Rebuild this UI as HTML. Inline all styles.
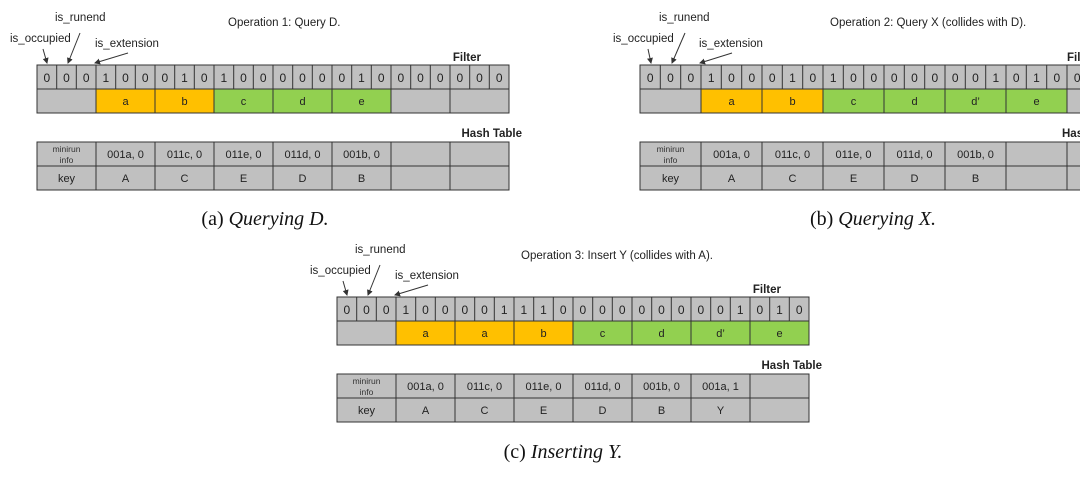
<!DOCTYPE html>
<html><head><meta charset="utf-8"><style>
html,body{margin:0;padding:0;background:#fff;}
svg text{font-family:"Liberation Sans",sans-serif;fill:#222;}
.b{font-size:12px;text-anchor:middle}
.s{font-size:11px;text-anchor:middle}
.m{font-size:8.5px;text-anchor:middle;fill:#333}
.l{font-size:11.5px}
.h{font-size:11.5px;font-weight:bold;text-anchor:end}
.cap{font-family:"Liberation Serif",serif;font-size:20px;text-anchor:middle;fill:#111}
rect{stroke:#333;stroke-width:1}
line{stroke:#333;stroke-width:1}
</style></head><body>
<svg width="1080" height="472" viewBox="0 0 1080 472" xmlns="http://www.w3.org/2000/svg">
<defs><marker id="ar" markerWidth="6" markerHeight="6" refX="5" refY="3" orient="auto"><path d="M0,0 L6,3 L0,6z" fill="#333"/></marker></defs>

<!-- ===== (a) ===== -->
<g transform="translate(37,65)">
<text class="l" x="-27" y="-23">is_occupied</text>
<text class="l" x="18" y="-44">is_runend</text>
<text class="l" x="58" y="-18">is_extension</text>
<text class="l" x="191" y="-39">Operation 1: Query D.</text>
<line x1="6" y1="-16" x2="10" y2="-2" marker-end="url(#ar)"/>
<line x1="43" y1="-32" x2="31" y2="-2" marker-end="url(#ar)"/>
<line x1="91" y1="-12" x2="58" y2="-2" marker-end="url(#ar)"/>
<text class="h" x="444" y="-4">Filter</text>
<rect x="0" y="0" width="472" height="24" fill="#c0c0c0"/>
<g>
<line x1="19.7" y1="0" x2="19.7" y2="24"/><line x1="39.3" y1="0" x2="39.3" y2="24"/>
<line x1="59" y1="0" x2="59" y2="48"/><line x1="78.7" y1="0" x2="78.7" y2="24"/><line x1="98.3" y1="0" x2="98.3" y2="24"/>
<line x1="118" y1="0" x2="118" y2="48"/><line x1="137.7" y1="0" x2="137.7" y2="24"/><line x1="157.3" y1="0" x2="157.3" y2="24"/>
<line x1="177" y1="0" x2="177" y2="48"/><line x1="196.7" y1="0" x2="196.7" y2="24"/><line x1="216.3" y1="0" x2="216.3" y2="24"/>
<line x1="236" y1="0" x2="236" y2="48"/><line x1="255.7" y1="0" x2="255.7" y2="24"/><line x1="275.3" y1="0" x2="275.3" y2="24"/>
<line x1="295" y1="0" x2="295" y2="48"/><line x1="314.7" y1="0" x2="314.7" y2="24"/><line x1="334.3" y1="0" x2="334.3" y2="24"/>
<line x1="354" y1="0" x2="354" y2="48"/><line x1="373.7" y1="0" x2="373.7" y2="24"/><line x1="393.3" y1="0" x2="393.3" y2="24"/>
<line x1="413" y1="0" x2="413" y2="48"/><line x1="432.7" y1="0" x2="432.7" y2="24"/><line x1="452.3" y1="0" x2="452.3" y2="24"/>
</g>
<g class="b">
<text class="b" x="9.8" y="17">0</text><text class="b" x="29.5" y="17">0</text><text class="b" x="49.2" y="17">0</text>
<text class="b" x="68.8" y="17">1</text><text class="b" x="88.5" y="17">0</text><text class="b" x="108.2" y="17">0</text>
<text class="b" x="127.8" y="17">0</text><text class="b" x="147.5" y="17">1</text><text class="b" x="167.2" y="17">0</text>
<text class="b" x="186.8" y="17">1</text><text class="b" x="206.5" y="17">0</text><text class="b" x="226.2" y="17">0</text>
<text class="b" x="245.8" y="17">0</text><text class="b" x="265.5" y="17">0</text><text class="b" x="285.2" y="17">0</text>
<text class="b" x="304.8" y="17">0</text><text class="b" x="324.5" y="17">1</text><text class="b" x="344.2" y="17">0</text>
<text class="b" x="363.8" y="17">0</text><text class="b" x="383.5" y="17">0</text><text class="b" x="403.2" y="17">0</text>
<text class="b" x="422.8" y="17">0</text><text class="b" x="442.5" y="17">0</text><text class="b" x="462.2" y="17">0</text>
</g>
<rect x="0" y="24" width="59" height="24" fill="#c0c0c0"/>
<rect x="59" y="24" width="59" height="24" fill="#ffc000"/><text class="s" x="88.5" y="40">a</text>
<rect x="118" y="24" width="59" height="24" fill="#ffc000"/><text class="s" x="147.5" y="40">b</text>
<rect x="177" y="24" width="59" height="24" fill="#92d050"/><text class="s" x="206.5" y="40">c</text>
<rect x="236" y="24" width="59" height="24" fill="#92d050"/><text class="s" x="265.5" y="40">d</text>
<rect x="295" y="24" width="59" height="24" fill="#92d050"/><text class="s" x="324.5" y="40">e</text>
<rect x="354" y="24" width="59" height="24" fill="#c0c0c0"/>
<rect x="413" y="24" width="59" height="24" fill="#c0c0c0"/>
<text class="h" x="485" y="72">Hash Table</text>
<rect x="0" y="77" width="59" height="24" fill="#c0c0c0"/><text class="m" x="29.5" y="87">minirun</text><text class="m" x="29.5" y="98">info</text>
<rect x="59" y="77" width="59" height="24" fill="#c0c0c0"/><text class="s" x="88.5" y="93">001a, 0</text>
<rect x="118" y="77" width="59" height="24" fill="#c0c0c0"/><text class="s" x="147.5" y="93">011c, 0</text>
<rect x="177" y="77" width="59" height="24" fill="#c0c0c0"/><text class="s" x="206.5" y="93">011e, 0</text>
<rect x="236" y="77" width="59" height="24" fill="#c0c0c0"/><text class="s" x="265.5" y="93">011d, 0</text>
<rect x="295" y="77" width="59" height="24" fill="#c0c0c0"/><text class="s" x="324.5" y="93">001b, 0</text>
<rect x="354" y="77" width="59" height="24" fill="#c0c0c0"/>
<rect x="413" y="77" width="59" height="24" fill="#c0c0c0"/>
<rect x="0" y="101" width="59" height="24" fill="#c0c0c0"/><text class="s" x="29.5" y="117">key</text>
<rect x="59" y="101" width="59" height="24" fill="#c0c0c0"/><text class="s" x="88.5" y="117">A</text>
<rect x="118" y="101" width="59" height="24" fill="#c0c0c0"/><text class="s" x="147.5" y="117">C</text>
<rect x="177" y="101" width="59" height="24" fill="#c0c0c0"/><text class="s" x="206.5" y="117">E</text>
<rect x="236" y="101" width="59" height="24" fill="#c0c0c0"/><text class="s" x="265.5" y="117">D</text>
<rect x="295" y="101" width="59" height="24" fill="#c0c0c0"/><text class="s" x="324.5" y="117">B</text>
<rect x="354" y="101" width="59" height="24" fill="#c0c0c0"/>
<rect x="413" y="101" width="59" height="24" fill="#c0c0c0"/>
</g>
<text class="cap" x="265" y="225">(a) <tspan font-style="italic">Querying D.</tspan></text>

<!-- ===== (b) ===== -->
<g transform="translate(640,65)">
<text class="l" x="-27" y="-23">is_occupied</text>
<text class="l" x="19" y="-44">is_runend</text>
<text class="l" x="59" y="-18">is_extension</text>
<text class="l" x="190" y="-39">Operation 2: Query X (collides with D).</text>
<line x1="8" y1="-16" x2="11" y2="-2" marker-end="url(#ar)"/>
<line x1="45" y1="-32" x2="32" y2="-2" marker-end="url(#ar)"/>
<line x1="92" y1="-12" x2="60" y2="-2" marker-end="url(#ar)"/>
<text class="l" x="427" y="-4" style="font-weight:bold">Filter</text>
<rect x="0" y="0" width="488" height="24" fill="#c0c0c0"/>
<line x1="20.3" y1="0" x2="20.3" y2="24"/><line x1="40.7" y1="0" x2="40.7" y2="24"/>
<line x1="61" y1="0" x2="61" y2="48"/><line x1="81.3" y1="0" x2="81.3" y2="24"/><line x1="101.7" y1="0" x2="101.7" y2="24"/>
<line x1="122" y1="0" x2="122" y2="48"/><line x1="142.3" y1="0" x2="142.3" y2="24"/><line x1="162.7" y1="0" x2="162.7" y2="24"/>
<line x1="183" y1="0" x2="183" y2="48"/><line x1="203.3" y1="0" x2="203.3" y2="24"/><line x1="223.7" y1="0" x2="223.7" y2="24"/>
<line x1="244" y1="0" x2="244" y2="48"/><line x1="264.3" y1="0" x2="264.3" y2="24"/><line x1="284.7" y1="0" x2="284.7" y2="24"/>
<line x1="305" y1="0" x2="305" y2="48"/><line x1="325.3" y1="0" x2="325.3" y2="24"/><line x1="345.7" y1="0" x2="345.7" y2="24"/>
<line x1="366" y1="0" x2="366" y2="48"/><line x1="386.3" y1="0" x2="386.3" y2="24"/><line x1="406.7" y1="0" x2="406.7" y2="24"/>
<line x1="427" y1="0" x2="427" y2="48"/>
<text class="b" x="10.2" y="17">0</text><text class="b" x="30.5" y="17">0</text><text class="b" x="50.8" y="17">0</text>
<text class="b" x="71.2" y="17">1</text><text class="b" x="91.5" y="17">0</text><text class="b" x="111.8" y="17">0</text>
<text class="b" x="132.2" y="17">0</text><text class="b" x="152.5" y="17">1</text><text class="b" x="172.8" y="17">0</text>
<text class="b" x="193.2" y="17">1</text><text class="b" x="213.5" y="17">0</text><text class="b" x="233.8" y="17">0</text>
<text class="b" x="254.2" y="17">0</text><text class="b" x="274.5" y="17">0</text><text class="b" x="294.8" y="17">0</text>
<text class="b" x="315.2" y="17">0</text><text class="b" x="335.5" y="17">0</text><text class="b" x="355.8" y="17">1</text>
<text class="b" x="376.2" y="17">0</text><text class="b" x="396.5" y="17">1</text><text class="b" x="416.8" y="17">0</text>
<text class="b" x="437.2" y="17">0</text>
<rect x="0" y="24" width="61" height="24" fill="#c0c0c0"/>
<rect x="61" y="24" width="61" height="24" fill="#ffc000"/><text class="s" x="91.5" y="40">a</text>
<rect x="122" y="24" width="61" height="24" fill="#ffc000"/><text class="s" x="152.5" y="40">b</text>
<rect x="183" y="24" width="61" height="24" fill="#92d050"/><text class="s" x="213.5" y="40">c</text>
<rect x="244" y="24" width="61" height="24" fill="#92d050"/><text class="s" x="274.5" y="40">d</text>
<rect x="305" y="24" width="61" height="24" fill="#92d050"/><text class="s" x="335.5" y="40">d’</text>
<rect x="366" y="24" width="61" height="24" fill="#92d050"/><text class="s" x="396.5" y="40">e</text>
<rect x="427" y="24" width="61" height="24" fill="#c0c0c0"/>
<text class="l" x="422" y="72" style="font-weight:bold">Hash Table</text>
<rect x="0" y="77" width="61" height="24" fill="#c0c0c0"/><text class="m" x="30.5" y="87">minirun</text><text class="m" x="30.5" y="98">info</text>
<rect x="61" y="77" width="61" height="24" fill="#c0c0c0"/><text class="s" x="91.5" y="93">001a, 0</text>
<rect x="122" y="77" width="61" height="24" fill="#c0c0c0"/><text class="s" x="152.5" y="93">011c, 0</text>
<rect x="183" y="77" width="61" height="24" fill="#c0c0c0"/><text class="s" x="213.5" y="93">011e, 0</text>
<rect x="244" y="77" width="61" height="24" fill="#c0c0c0"/><text class="s" x="274.5" y="93">011d, 0</text>
<rect x="305" y="77" width="61" height="24" fill="#c0c0c0"/><text class="s" x="335.5" y="93">001b, 0</text>
<rect x="366" y="77" width="61" height="24" fill="#c0c0c0"/>
<rect x="427" y="77" width="61" height="24" fill="#c0c0c0"/>
<rect x="0" y="101" width="61" height="24" fill="#c0c0c0"/><text class="s" x="30.5" y="117">key</text>
<rect x="61" y="101" width="61" height="24" fill="#c0c0c0"/><text class="s" x="91.5" y="117">A</text>
<rect x="122" y="101" width="61" height="24" fill="#c0c0c0"/><text class="s" x="152.5" y="117">C</text>
<rect x="183" y="101" width="61" height="24" fill="#c0c0c0"/><text class="s" x="213.5" y="117">E</text>
<rect x="244" y="101" width="61" height="24" fill="#c0c0c0"/><text class="s" x="274.5" y="117">D</text>
<rect x="305" y="101" width="61" height="24" fill="#c0c0c0"/><text class="s" x="335.5" y="117">B</text>
<rect x="366" y="101" width="61" height="24" fill="#c0c0c0"/>
<rect x="427" y="101" width="61" height="24" fill="#c0c0c0"/>
</g>
<text class="cap" x="873" y="225">(b) <tspan font-style="italic">Querying X.</tspan></text>

<!-- ===== (c) ===== -->
<g transform="translate(337,297)">
<text class="l" x="-27" y="-23">is_occupied</text>
<text class="l" x="18" y="-44">is_runend</text>
<text class="l" x="58" y="-18">is_extension</text>
<text class="l" x="184" y="-38">Operation 3: Insert Y (collides with A).</text>
<line x1="6" y1="-16" x2="10" y2="-2" marker-end="url(#ar)"/>
<line x1="43" y1="-32" x2="31" y2="-2" marker-end="url(#ar)"/>
<line x1="91" y1="-12" x2="58" y2="-2" marker-end="url(#ar)"/>
<text class="h" x="444" y="-4">Filter</text>
<rect x="0" y="0" width="472" height="24" fill="#c0c0c0"/>
<line x1="19.7" y1="0" x2="19.7" y2="24"/><line x1="39.3" y1="0" x2="39.3" y2="24"/>
<line x1="59" y1="0" x2="59" y2="48"/><line x1="78.7" y1="0" x2="78.7" y2="24"/><line x1="98.3" y1="0" x2="98.3" y2="24"/>
<line x1="118" y1="0" x2="118" y2="48"/><line x1="137.7" y1="0" x2="137.7" y2="24"/><line x1="157.3" y1="0" x2="157.3" y2="24"/>
<line x1="177" y1="0" x2="177" y2="48"/><line x1="196.7" y1="0" x2="196.7" y2="24"/><line x1="216.3" y1="0" x2="216.3" y2="24"/>
<line x1="236" y1="0" x2="236" y2="48"/><line x1="255.7" y1="0" x2="255.7" y2="24"/><line x1="275.3" y1="0" x2="275.3" y2="24"/>
<line x1="295" y1="0" x2="295" y2="48"/><line x1="314.7" y1="0" x2="314.7" y2="24"/><line x1="334.3" y1="0" x2="334.3" y2="24"/>
<line x1="354" y1="0" x2="354" y2="48"/><line x1="373.7" y1="0" x2="373.7" y2="24"/><line x1="393.3" y1="0" x2="393.3" y2="24"/>
<line x1="413" y1="0" x2="413" y2="48"/><line x1="432.7" y1="0" x2="432.7" y2="24"/><line x1="452.3" y1="0" x2="452.3" y2="24"/>
<text class="b" x="9.8" y="17">0</text><text class="b" x="29.5" y="17">0</text><text class="b" x="49.2" y="17">0</text>
<text class="b" x="68.8" y="17">1</text><text class="b" x="88.5" y="17">0</text><text class="b" x="108.2" y="17">0</text>
<text class="b" x="127.8" y="17">0</text><text class="b" x="147.5" y="17">0</text><text class="b" x="167.2" y="17">1</text>
<text class="b" x="186.8" y="17">1</text><text class="b" x="206.5" y="17">1</text><text class="b" x="226.2" y="17">0</text>
<text class="b" x="245.8" y="17">0</text><text class="b" x="265.5" y="17">0</text><text class="b" x="285.2" y="17">0</text>
<text class="b" x="304.8" y="17">0</text><text class="b" x="324.5" y="17">0</text><text class="b" x="344.2" y="17">0</text>
<text class="b" x="363.8" y="17">0</text><text class="b" x="383.5" y="17">0</text><text class="b" x="403.2" y="17">1</text>
<text class="b" x="422.8" y="17">0</text><text class="b" x="442.5" y="17">1</text><text class="b" x="462.2" y="17">0</text>
<rect x="0" y="24" width="59" height="24" fill="#c0c0c0"/>
<rect x="59" y="24" width="59" height="24" fill="#ffc000"/><text class="s" x="88.5" y="40">a</text>
<rect x="118" y="24" width="59" height="24" fill="#ffc000"/><text class="s" x="147.5" y="40">a</text>
<rect x="177" y="24" width="59" height="24" fill="#ffc000"/><text class="s" x="206.5" y="40">b</text>
<rect x="236" y="24" width="59" height="24" fill="#92d050"/><text class="s" x="265.5" y="40">c</text>
<rect x="295" y="24" width="59" height="24" fill="#92d050"/><text class="s" x="324.5" y="40">d</text>
<rect x="354" y="24" width="59" height="24" fill="#92d050"/><text class="s" x="383.5" y="40">d’</text>
<rect x="413" y="24" width="59" height="24" fill="#92d050"/><text class="s" x="442.5" y="40">e</text>
<text class="h" x="485" y="72">Hash Table</text>
<rect x="0" y="77" width="59" height="24" fill="#c0c0c0"/><text class="m" x="29.5" y="87">minirun</text><text class="m" x="29.5" y="98">info</text>
<rect x="59" y="77" width="59" height="24" fill="#c0c0c0"/><text class="s" x="88.5" y="93">001a, 0</text>
<rect x="118" y="77" width="59" height="24" fill="#c0c0c0"/><text class="s" x="147.5" y="93">011c, 0</text>
<rect x="177" y="77" width="59" height="24" fill="#c0c0c0"/><text class="s" x="206.5" y="93">011e, 0</text>
<rect x="236" y="77" width="59" height="24" fill="#c0c0c0"/><text class="s" x="265.5" y="93">011d, 0</text>
<rect x="295" y="77" width="59" height="24" fill="#c0c0c0"/><text class="s" x="324.5" y="93">001b, 0</text>
<rect x="354" y="77" width="59" height="24" fill="#c0c0c0"/><text class="s" x="383.5" y="93">001a, 1</text>
<rect x="413" y="77" width="59" height="24" fill="#c0c0c0"/>
<rect x="0" y="101" width="59" height="24" fill="#c0c0c0"/><text class="s" x="29.5" y="117">key</text>
<rect x="59" y="101" width="59" height="24" fill="#c0c0c0"/><text class="s" x="88.5" y="117">A</text>
<rect x="118" y="101" width="59" height="24" fill="#c0c0c0"/><text class="s" x="147.5" y="117">C</text>
<rect x="177" y="101" width="59" height="24" fill="#c0c0c0"/><text class="s" x="206.5" y="117">E</text>
<rect x="236" y="101" width="59" height="24" fill="#c0c0c0"/><text class="s" x="265.5" y="117">D</text>
<rect x="295" y="101" width="59" height="24" fill="#c0c0c0"/><text class="s" x="324.5" y="117">B</text>
<rect x="354" y="101" width="59" height="24" fill="#c0c0c0"/><text class="s" x="383.5" y="117">Y</text>
<rect x="413" y="101" width="59" height="24" fill="#c0c0c0"/>
</g>
<text class="cap" x="563" y="458">(c) <tspan font-style="italic">Inserting Y.</tspan></text>
</svg>
</body></html>
